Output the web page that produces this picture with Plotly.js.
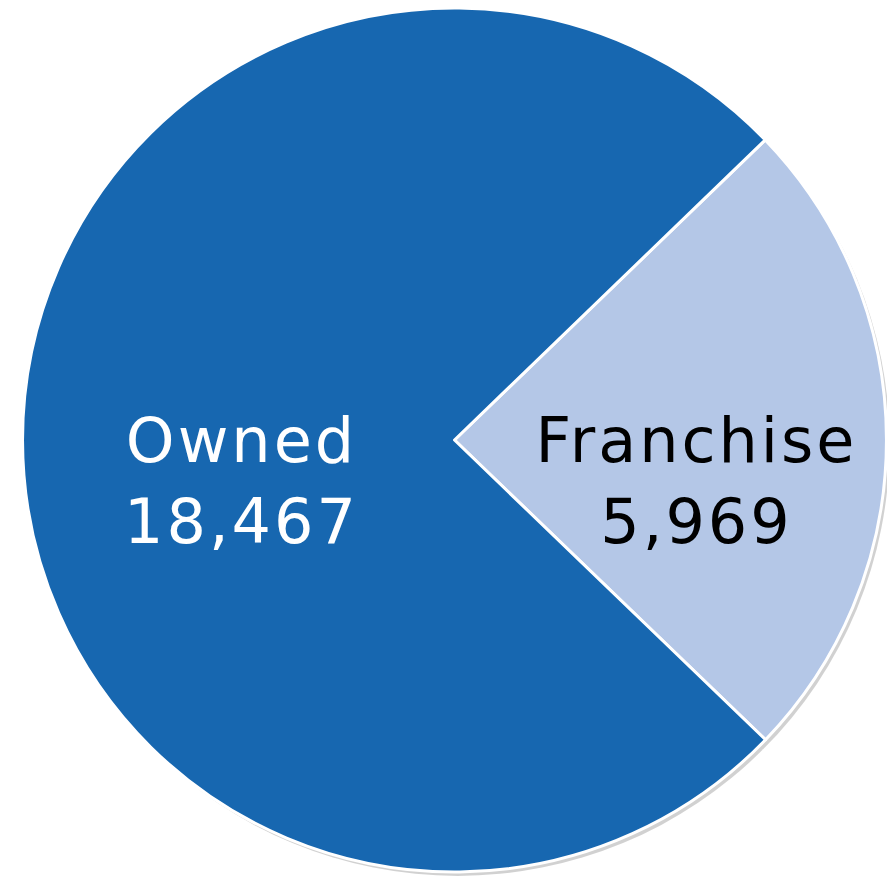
<!DOCTYPE html>
<html>
<head>
<meta charset="utf-8">
<script src="https://cdn.plot.ly/plotly-3.0.1.min.js"></script>
<style>
  html, body { margin: 0; padding: 0; background: #fff; }
  #chart { width: 887px; height: 881px; }
  /* the reference face is wider than DejaVu, open it up a bit */
  #chart .annotation-text { letter-spacing: 3px; }
</style>
</head>
<body>
<div id="chart"></div>
<script>
// store split: franchise vs owned
var labels = ['Franchise', 'Owned'];
var values = [5969, 18467];
var colors = ['#B4C7E7', '#1767B0'];
var textColors = ['#000000', '#FFFFFF'];
// where each label sits (paper coords), the reference puts them a bit below centre
var labelX = [0.7847, 0.2723];
var labelY = [0.454, 0.454];

var data = [{
  type: 'pie',
  labels: labels,
  values: values,
  sort: false,
  direction: 'clockwise',
  rotation: 46,
  marker: { colors: colors, line: { color: '#FFFFFF', width: 3 } },
  textinfo: 'none',
  hoverinfo: 'label+value',
  domain: { x: [0.0254, 0.9994], y: [0.0102, 0.9909] }
}];

var annotations = [];
for (let i = 0; i < labels.length; i++) {
  annotations.push({
    xref: 'paper', yref: 'paper',
    x: labelX[i], y: labelY[i],
    xanchor: 'center', yanchor: 'middle',
    showarrow: false,
    text: labels[i] + '<br>' + values[i].toLocaleString('en-US'),
    font: { family: 'DejaVu Sans, sans-serif', size: 62, color: textColors[i] }
  });
}

var layout = {
  width: 887,
  height: 881,
  margin: { l: 0, r: 0, t: 0, b: 0 },
  showlegend: false,
  paper_bgcolor: '#FFFFFF',
  annotations: annotations,
  // soft drop shadow under the pie
  shapes: [{
    type: 'circle', xref: 'paper', yref: 'paper', layer: 'below',
    x0: 0.0290, x1: 1.0030, y0: 0.0058, y1: 0.9865,
    fillcolor: 'rgba(0,0,0,0.18)', line: { width: 0 }
  }]
};

Plotly.newPlot('chart', data, layout, { displayModeBar: false, staticPlot: true });
</script>
</body>
</html>
